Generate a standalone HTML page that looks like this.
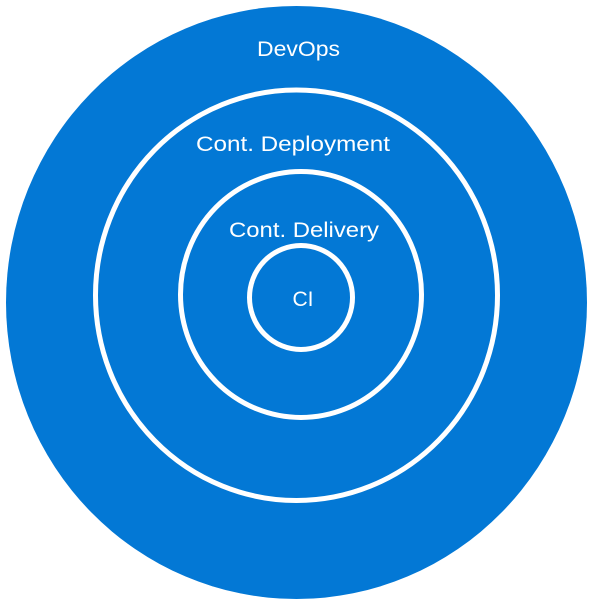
<!DOCTYPE html>
<html><head><meta charset="utf-8"><style>
html,body{margin:0;padding:0;background:#fff;}
svg{display:block;}
text{font-family:"Liberation Sans",sans-serif;fill:#fff;font-size:21px;}
</style></head><body>
<svg width="593" height="606" viewBox="0 0 593 606">
<ellipse cx="296.5" cy="302.5" rx="290.5" ry="296.5" fill="#0378d5"/>
<ellipse cx="296.5" cy="295.25" rx="201" ry="205.25" fill="none" stroke="#fff" stroke-width="5"/>
<ellipse cx="301" cy="294.5" rx="120.5" ry="123" fill="none" stroke="#fff" stroke-width="5"/>
<ellipse cx="301" cy="297.5" rx="51.5" ry="52" fill="none" stroke="#fff" stroke-width="5"/>
<text x="298.5" y="56" text-anchor="middle" textLength="83" lengthAdjust="spacingAndGlyphs">DevOps</text>
<text x="293" y="151" text-anchor="middle" textLength="194" lengthAdjust="spacingAndGlyphs">Cont. Deployment</text>
<text x="304" y="237" text-anchor="middle" textLength="150" lengthAdjust="spacingAndGlyphs">Cont. Delivery</text>
<text x="303" y="306" text-anchor="middle" textLength="21" lengthAdjust="spacingAndGlyphs">CI</text>
</svg>
</body></html>
